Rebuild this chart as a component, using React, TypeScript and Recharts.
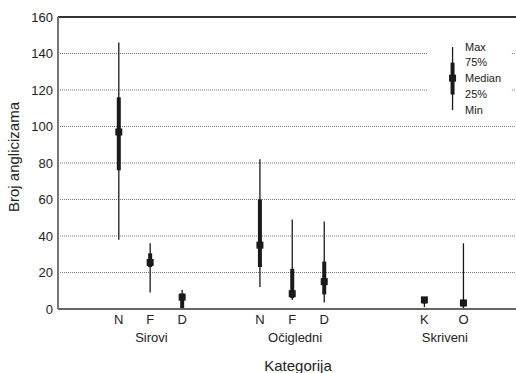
import {
  CartesianGrid,
  ComposedChart,
  ErrorBar,
  Label,
  ReferenceArea,
  ReferenceLine,
  Scatter,
  XAxis,
  YAxis,
} from "recharts"

const FONT = '"Liberation Sans", Arial, sans-serif'
const INK = "#1a1a1a"
const TEXT = "#222"

// categories and where they sit on the x axis (in slot units)
const LABELS = ["N", "F", "D", "N", "F", "D", "K", "O"]
const SLOTS = [1.9, 2.88, 3.88, 6.31, 7.32, 8.32, 11.45, 12.67]

// five-number summaries
const MINS = [38, 9, 0, 12, 5, 3.5, 1, 0]
const Q1S = [76, 23, 0, 23, 6, 8, 3, 1.5]
const MEDIANS = [97, 25.5, 6.5, 35, 8.4, 15, 5, 3.3]
const Q3S = [116, 30.5, 8.5, 60, 22, 26, 6, 5]
const MAXS = [146, 36, 10.5, 82, 49, 48, 6, 36]

const GROUPS = ["Sirovi", "Očigledni", "Skriveni"]
const GROUP_SLOTS = [2.92, 7.41, 12.09]

const Y_TICKS = [0, 20, 40, 60, 80, 100, 120, 140, 160]

// legend key drawn inside the plot
const LEGEND_SLOT = 12.33
const LEGEND_TEXT_SLOT = 12.72
const LEGEND_NAMES = ["Min", "25%", "Median", "75%", "Max"]
const LEGEND_VALUES = [109, 117.5, 126.5, 135, 143.5]

type Row = { x: number; min: number; q1: number; median: number; q3: number; max: number }

const rows: Row[] = LABELS.map((_, i) => ({
  x: SLOTS[i],
  min: MINS[i],
  q1: Q1S[i],
  median: MEDIANS[i],
  q3: Q3S[i],
  max: MAXS[i],
}))

const legendRow: Row[] = [
  {
    x: LEGEND_SLOT,
    min: LEGEND_VALUES[0],
    q1: LEGEND_VALUES[1],
    median: LEGEND_VALUES[2],
    q3: LEGEND_VALUES[3],
    max: LEGEND_VALUES[4],
  },
]

const legendText = LEGEND_NAMES.map((name, i) => ({
  x: LEGEND_TEXT_SLOT,
  y: LEGEND_VALUES[i],
  name,
}))

// anchors so the group axis has something to scale
const groupRows = GROUPS.map((name, i) => ({ x: GROUP_SLOTS[i], y: 0, name }))

const whisker = (d: Row) => [d.median - d.min, d.max - d.median]
const box = (d: Row) => [d.median - d.q1, d.q3 - d.median]

const Square = (props: any) => {
  const { cx, cy } = props
  if (cx == null || cy == null) return null
  return <rect x={cx - 3.5} y={cy - 3.5} width={7} height={7} fill={INK} />
}

const KeyText = (props: any) => {
  const { cx, cy, payload } = props
  if (cx == null || cy == null) return null
  return (
    <text x={cx} y={cy} dy="0.35em" fontSize={11} fill={TEXT} fontFamily={FONT}>
      {payload.name}
    </text>
  )
}

const Nothing = () => <g />

const labelFor = (v: number) => {
  const i = SLOTS.indexOf(v)
  return i >= 0 ? LABELS[i] : ""
}

const groupFor = (v: number) => {
  const i = GROUP_SLOTS.indexOf(v)
  return i >= 0 ? GROUPS[i] : ""
}

function YTitle(props: any) {
  const vb = props.viewBox ?? { x: 0, y: 17, width: 58, height: 292 }
  const x = vb.x + 19
  const y = vb.y + vb.height / 2 - 6
  return (
    <text
      x={x}
      y={y}
      transform={`rotate(-90 ${x} ${y})`}
      textAnchor="middle"
      fontSize={15}
      fill={TEXT}
      fontFamily={FONT}
    >
      Broj anglicizama
    </text>
  )
}

export default function App() {
  return (
    <div
      style={{
        position: "absolute",
        left: 0,
        top: 0,
        width: 516,
        height: 373,
        overflow: "hidden",
        background: "#fff",
        fontFamily: FONT,
      }}
    >
      <ComposedChart
        width={540}
        height={373}
        margin={{ top: 17, right: 2, left: 0, bottom: 0 }}
        style={{ fontFamily: FONT }}
      >
        <CartesianGrid
          vertical={false}
          stroke="#777"
          strokeDasharray="1 1"
          strokeWidth={1}
        />
        <XAxis
          dataKey="x"
          type="number"
          domain={[0, 15]}
          ticks={SLOTS}
          tickFormatter={labelFor}
          interval={0}
          height={20}
          tickLine={false}
          tickSize={0}
          tickMargin={6}
          axisLine={{ stroke: "#666", strokeWidth: 2 }}
          tick={{ fontSize: 13, fill: TEXT }}
        />
        <XAxis
          xAxisId="group"
          dataKey="x"
          type="number"
          domain={[0, 15]}
          ticks={GROUP_SLOTS}
          tickFormatter={groupFor}
          interval={0}
          height={44}
          axisLine={false}
          tickLine={false}
          tickSize={0}
          tickMargin={4}
          tick={{ fontSize: 13, fill: TEXT }}
        >
          <Label
            value="Kategorija"
            position="insideBottom"
            offset={2.5}
            fontSize={15}
            fill={TEXT}
          />
        </XAxis>
        <YAxis
          type="number"
          domain={[0, 160]}
          ticks={Y_TICKS}
          allowDataOverflow
          width={58}
          tickLine={false}
          tickSize={0}
          tickMargin={5}
          axisLine={{ stroke: "#777", strokeWidth: 2 }}
          tick={{ fontSize: 13, fill: TEXT }}
          label={{ content: (p: any) => <YTitle {...p} /> }}
        />
        <ReferenceLine y={160} stroke="#333" strokeWidth={2} />
        <ReferenceArea
          x1={11.56}
          x2={14.15}
          y1={106}
          y2={150}
          fill="#fff"
          fillOpacity={1}
          stroke="none"
        />
        <Scatter
          xAxisId="group"
          data={groupRows}
          dataKey="y"
          shape={Nothing}
          isAnimationActive={false}
        />
        <Scatter data={rows} dataKey="median" shape={Square} isAnimationActive={false}>
          <ErrorBar
            dataKey={whisker}
            direction="y"
            width={0}
            stroke={INK}
            strokeWidth={1.3}
            isAnimationActive={false}
          />
          <ErrorBar
            dataKey={box}
            direction="y"
            width={0}
            stroke={INK}
            strokeWidth={4}
            isAnimationActive={false}
          />
        </Scatter>
        <Scatter data={legendRow} dataKey="median" shape={Square} isAnimationActive={false}>
          <ErrorBar
            dataKey={whisker}
            direction="y"
            width={0}
            stroke={INK}
            strokeWidth={1.3}
            isAnimationActive={false}
          />
          <ErrorBar
            dataKey={box}
            direction="y"
            width={0}
            stroke={INK}
            strokeWidth={4}
            isAnimationActive={false}
          />
        </Scatter>
        <Scatter data={legendText} dataKey="y" shape={KeyText} isAnimationActive={false} />
      </ComposedChart>
    </div>
  )
}
